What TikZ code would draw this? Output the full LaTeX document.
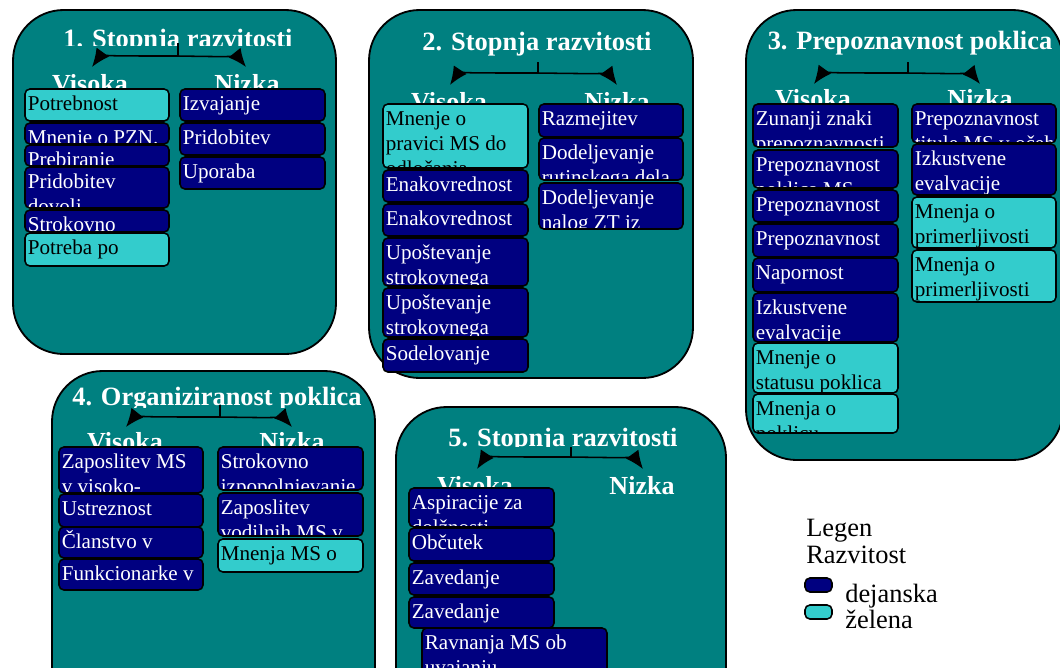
\documentclass[tikz,border=0pt]{standalone}
\usepackage{fontspec}
\setmainfont{Liberation Serif}
\usetikzlibrary{arrows.meta}

\definecolor{panelteal}{HTML}{008080}
\definecolor{dejnavy}{HTML}{000080}
\definecolor{zelcyan}{HTML}{33CCCC}

\tikzset{
  panel/.style={draw=black, line width=1.3pt, fill=panelteal, rounded corners=36pt},
  ptitle/.style={text=white, font=\bfseries\fontsize{18.8}{22}\selectfont, anchor=base, inner sep=0pt},
  plabel/.style={text=white, font=\bfseries\fontsize{18.5}{22}\selectfont, anchor=base, inner sep=0pt},
  dej/.style={draw=black, line width=1.1pt, fill=dejnavy, rounded corners=3.5pt,
              anchor=north west, inner sep=0pt, outer sep=0pt},
  zel/.style={dej, fill=zelcyan},
  celltxt/.style={anchor=north west, inner sep=0pt, xshift=2pt, align=left,
                  minimum width=0pt, minimum height=0pt,
                  font=\fontsize{15}{17.6}\selectfont},
  dejtxt/.style={celltxt, text=white},
  zeltxt/.style={celltxt, text=black},
  arr/.style={-{Latex[length=13pt,width=11pt]}, line width=1.1pt},
  stem/.style={line width=1.1pt},
  legtxt/.style={anchor=base west, inner sep=0pt, font=\fontsize{18.8}{22}\selectfont}
}

% name, x, y, width, height, kind, text
\newcommand\mscell[7]{%
  \node[#6, minimum width={#4*0.025cm}, minimum height={#5*0.025cm},
        path picture={\node[#6txt] at (path picture bounding box.north west)
                       {\rule{0pt}{15.5pt}#7};}] (#1) at (#2,#3) {};}

\begin{document}
\begin{tikzpicture}[x=0.025cm, y=-0.025cm]

\clip (0,0) rectangle (1060,667);
\fill[white] (0,0) rectangle (1060,667);

% the five panels
\draw[panel] (13,10) rectangle (336,354);
\draw[panel] (369,10) rectangle (693,378);
\draw[panel] (746,10) rectangle (1063,460);
\draw[panel] (52,371) rectangle (375,720);
\draw[panel] (396,407) rectangle (726,720);

% titles
\begin{scope}
  \clip (13,10) rectangle (336,45);
  \node[ptitle] (ti1) at (178,47.5) {1. Stopnja razvitosti};
\end{scope}
\node[ptitle] (ti2) at (537,50) {2. Stopnja razvitosti};
\node[ptitle] (ti3) at (910,49.5) {3. Prepoznavnost poklica};
\begin{scope}
  \clip (52,371) rectangle (375,407);
  \node[ptitle] (ti4) at (217,405) {4. Organiziranost poklica};
\end{scope}
\begin{scope}
  \clip (396,407) rectangle (726,446);
  \node[ptitle] (ti5) at (563,446) {5. Stopnja razvitosti};
\end{scope}

% Visoka / Nizka
\node[plabel] (v1) at (90,92.5) {Visoka};
\node[plabel] (n1) at (247,92.5) {Nizka};
\node[plabel] (v2) at (449,110.5) {Visoka};
\node[plabel] (n2) at (617,110.5) {Nizka};
\node[plabel] (v3) at (813,107.5) {Visoka};
\node[plabel] (n3) at (980,107.5) {Nizka};
\node[plabel] (v4) at (125,450.5) {Visoka};
\node[plabel] (n4) at (292,450.5) {Nizka};
\node[plabel] (v5) at (475,494.5) {Visoka};
\node[plabel] (n5) at (642,494.5) {Nizka};

% forks
\coordinate (s1) at (178,43);  \coordinate (j1) at (178,56);
\coordinate (l1) at (92,67);   \coordinate (r1) at (246,67);
\coordinate (s2) at (538,62);  \coordinate (j2) at (538,73);
\coordinate (l2) at (450,85);  \coordinate (r2) at (617,85);
\coordinate (s3) at (908,62);  \coordinate (j3) at (908,73);
\coordinate (l3) at (814,84);  \coordinate (r3) at (980,84);
\coordinate (s4) at (220,405); \coordinate (j4) at (220,417);
\coordinate (l4) at (126,427); \coordinate (r4) at (292,427);
\coordinate (s5) at (571,447); \coordinate (j5) at (571,457);
\coordinate (l5) at (477,469); \coordinate (r5) at (643,469);

\draw[stem] (s1) -- (j1);
\draw[arr] (j1) .. controls (100,56) .. (l1);
\draw[arr] (j1) .. controls (238,57) .. (r1);
\draw[stem] (s2) -- (j2);
\draw[arr] (j2) .. controls (458,73) .. (l2);
\draw[arr] (j2) .. controls (609,74) .. (r2);
\draw[stem] (s3) -- (j3);
\draw[arr] (j3) .. controls (822,73) .. (l3);
\draw[arr] (j3) .. controls (972,74) .. (r3);
\draw[stem] (s4) -- (j4);
\draw[arr] (j4) .. controls (134,417) .. (l4);
\draw[arr] (j4) .. controls (284,418) .. (r4);
\draw[stem] (s5) -- (j5);
\draw[arr] (j5) .. controls (485,457) .. (l5);
\draw[arr] (j5) .. controls (635,458) .. (r5);

% panel 1
\mscell{a1}{25}{89}{144}{32}{zel}{Potrebnost}
\mscell{a2}{25}{123}{144}{21}{dej}{Mnenje o PZN.}
\mscell{a3}{25}{145}{144}{21}{dej}{Prebiranje}
\mscell{a4}{25}{167}{144}{41}{dej}{Pridobitev\\dovolj}
\mscell{a5}{25}{210}{144}{22}{dej}{Strokovno}
\mscell{a6}{25}{233}{144}{33}{zel}{Potreba po}
\mscell{b1}{180}{89}{145}{32}{dej}{Izvajanje}
\mscell{b2}{180}{123}{145}{32}{dej}{Pridobitev}
\mscell{b3}{180}{157}{145}{32}{dej}{Uporaba}

% panel 2
\mscell{c1}{383}{104}{145}{64}{zel}{Mnenje o\\pravici MS do\\odločanja}
\mscell{c2}{383}{170}{145}{32}{dej}{Enakovrednost}
\mscell{c3}{383}{204}{145}{32}{dej}{Enakovrednost}
\mscell{c4}{383}{238}{145}{48}{dej}{Upoštevanje\\strokovnega}
\mscell{c5}{383}{288}{145}{49}{dej}{Upoštevanje\\strokovnega}
\mscell{c6}{383}{339}{145}{33}{dej}{Sodelovanje}
\mscell{d1}{539}{104}{144}{33}{dej}{Razmejitev}
\mscell{d2}{539}{138}{144}{42}{dej}{Dodeljevanje\\rutinskega dela}
\mscell{d3}{539}{183}{144}{46}{dej}{Dodeljevanje\\nalog ZT iz}

% panel 3
\mscell{e1}{753}{104}{145}{43}{dej}{Zunanji znaki\\prepoznavnosti}
\mscell{e2}{753}{150}{145}{38}{dej}{Prepoznavnost\\poklica MS}
\mscell{e3}{753}{190}{145}{32}{dej}{Prepoznavnost}
\mscell{e4}{753}{224}{145}{33}{dej}{Prepoznavnost}
\mscell{e5}{753}{258}{145}{34}{dej}{Napornost}
\mscell{e6}{753}{293}{145}{49}{dej}{Izkustvene\\evalvacije}
\mscell{e7}{753}{343}{145}{50}{zel}{Mnenje o\\statusu poklica}
\mscell{e8}{753}{394}{145}{39}{zel}{Mnenja o\\poklicu}
\mscell{f1}{912}{104}{144}{39}{dej}{Prepoznavnost\\titule MS v očeh}
\mscell{f2}{912}{144}{144}{51}{dej}{Izkustvene\\evalvacije}
\mscell{f3}{912}{197}{144}{51}{zel}{Mnenja o\\primerljivosti}
\mscell{f4}{912}{250}{144}{52}{zel}{Mnenja o\\primerljivosti}

% panel 4
\mscell{g1}{59}{447}{144}{46}{dej}{Zaposlitev MS\\v visoko-}
\mscell{g2}{59}{494}{144}{33}{dej}{Ustreznost}
\mscell{g3}{59}{527}{144}{31}{dej}{Članstvo v}
\mscell{g4}{59}{559}{144}{31}{dej}{Funkcionarke v}
\mscell{h1}{218}{447}{145}{43}{dej}{Strokovno\\izpopolnjevanje}
\mscell{h2}{218}{493}{145}{43}{dej}{Zaposlitev\\vodilnih MS v}
\mscell{h3}{218}{539}{145}{33}{zel}{Mnenja MS o}

% panel 5
\mscell{k1}{409}{488}{145}{39}{dej}{Aspiracije za\\dolžnosti}
\mscell{k2}{409}{528}{145}{33}{dej}{Občutek}
\mscell{k3}{409}{563}{145}{32}{dej}{Zavedanje}
\mscell{k4}{409}{597}{145}{31}{dej}{Zavedanje}
\mscell{k5}{422}{628}{185}{45}{dej}{Ravnanja MS ob\\uvajanju}

% legend
\node[legtxt] (lg1) at (806,536) {Legen};
\node[legtxt] (lg2) at (806,563) {Razvitost};
\node[dej, minimum width={27*0.025cm}, minimum height={14*0.025cm}] (sw1) at (805,578) {};
\node[zel, minimum width={27*0.025cm}, minimum height={14*0.025cm}] (sw2) at (805,605) {};
\node[legtxt] (lg3) at (845,602) {dejanska};
\node[legtxt] (lg4) at (845,628) {želena};

\end{tikzpicture}
\end{document}
